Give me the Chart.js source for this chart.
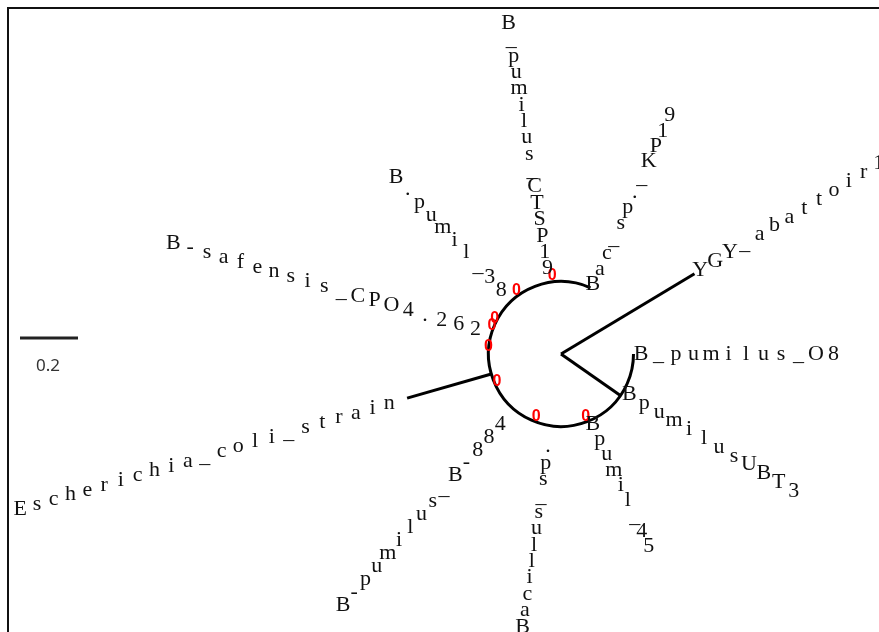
<!DOCTYPE html>
<html>
<head>
<meta charset="utf-8">
<title>Radial tree</title>
<style>
  html, body { margin: 0; padding: 0; background: #fff; }
  #wrap { position: relative; width: 879px; height: 632px; }
</style>
<script src="https://cdn.jsdelivr.net/npm/chart.js@4.4.1/dist/chart.umd.min.js"></script>
</head>
<body>
<div id="wrap"><canvas id="tree"></canvas></div>
<script>
// ---- tree data -------------------------------------------------------------
// Tip labels, listed counter-clockwise starting from the right-hand side.
const tipLabels = [
  'B_pumilus_O8',
  'YGY_abattoir1',
  'Bac_sp._KP19',
  'B_pumilus_CTSP19',
  'B.pumil_38',
  'B-safensis_CPO4.262',
  'Escherichia_coli_strain',
  'B-pumilus_B-884',
  'Bacillus_sp.',
  'Bpumil_45',
  'BpumilusUBT3'
];
// Angular position of each tip (degrees, counter-clockwise from the right).
const tipAngles = [0, 31, 65.5, 99, 133, 164, 196, 229, 262, 294.5, 329.5];
// Distance of each tip from the root (substitutions per site).
const tipDepths = [0.25, 0.537, 0.25, 0.25, 0.25, 0.25, 0.552, 0.25, 0.25, 0.25, 0.25];

// Internal node that joins every tip except YGY_abattoir1.
const cladeDepth = 0.25;
const cladeAngle = 325;
const cladeArcStart = 66;   // degrees
const cladeArcEnd = 360;    // degrees

// Zero-length internal edges and their labels.
const zeroEdgeAngles = [97, 128, 156, 162, 178.5, 208, 250, 290];
const zeroEdgeLabels = ['0', '0', '0', '0', '0', '0', '0', '0'];

// Scale bar.
const scaleBarValue = 0.2;
const scaleBarLabel = '0.2';

// ---- helpers ---------------------------------------------------------------
const rad = d => d * Math.PI / 180;
const polar = (angle, r) => ({ x: r * Math.cos(rad(angle)), y: r * Math.sin(rad(angle)) });

const ROOT = { x: 0, y: 0 };
const branchStyle = { borderColor: '#000', borderWidth: 3, pointRadius: 0, showLine: true, fill: false, borderCapStyle: 'butt' };

// Root -> YGY, root -> clade node, and the extra length of the E. coli tip.
const ecoliIdx = tipLabels.indexOf('Escherichia_coli_strain');
const yIdx = tipLabels.indexOf('YGY_abattoir1');
const datasets = [
  Object.assign({ data: [ROOT, polar(tipAngles[yIdx], tipDepths[yIdx])] }, branchStyle),
  Object.assign({ data: [ROOT, polar(cladeAngle, cladeDepth)] }, branchStyle),
  Object.assign({ data: [polar(tipAngles[ecoliIdx], cladeDepth), polar(tipAngles[ecoliIdx], tipDepths[ecoliIdx])] }, branchStyle)
];

// Draws the clade arc, edge labels, tip labels, scale bar and frame.
const treeDecor = {
  id: 'treeDecor',
  beforeDatasetsDraw(chart) {
    const { ctx, scales: { x, y } } = chart;
    const cx = x.getPixelForValue(0), cy = y.getPixelForValue(0);
    const r = x.getPixelForValue(cladeDepth) - cx;
    ctx.save();
    ctx.strokeStyle = '#000';
    ctx.lineWidth = 3;
    ctx.beginPath();
    ctx.arc(cx, cy, r, -rad(cladeArcStart), -rad(cladeArcEnd), true);
    ctx.stroke();
    ctx.restore();
  },
  afterDatasetsDraw(chart) {
    const { ctx, scales: { x, y } } = chart;
    const cx = x.getPixelForValue(0);
    const pxPerUnit = x.getPixelForValue(1) - cx;
    ctx.save();

    // red labels of zero-length edges
    ctx.fillStyle = '#ff0000';
    ctx.font = 'bold 16px "Liberation Sans", Arial, sans-serif';
    ctx.textAlign = 'center';
    ctx.textBaseline = 'middle';
    zeroEdgeAngles.forEach((a, i) => {
      const p = polar(a, cladeDepth);
      ctx.fillText(zeroEdgeLabels[i], x.getPixelForValue(p.x), y.getPixelForValue(p.y) - 6);
    });

    // tip labels, one upright glyph at a time along each tip's ray
    ctx.fillStyle = '#111';
    ctx.font = '22px "Liberation Serif", "Times New Roman", serif';
    tipLabels.forEach((label, i) => {
      const a = tipAngles[i];
      const tip = polar(a, tipDepths[i]);
      const tx = x.getPixelForValue(tip.x), ty = y.getPixelForValue(tip.y);
      const c = Math.cos(rad(a)), s = Math.sin(rad(a));
      const dx = c, dy = -s;
      const leftSide = a > 90 && a < 270;
      const chars = leftSide ? Array.from(label).reverse() : Array.from(label);
      // glyph pitch is a little tighter on near-vertical rays
      const step = 16.4 + 1.1 * Math.abs(c);
      const offset = leftSide ? 17.5 - 3.5 * s : 2 + 5.5 * Math.abs(c);
      chars.forEach((ch, k) => {
        const d = offset + k * step;
        ctx.fillText(ch, tx + dx * d, ty + dy * d);
      });
    });

    // scale bar
    const barX = 20, barY = 338;
    const barLen = scaleBarValue * pxPerUnit;
    ctx.strokeStyle = '#222';
    ctx.lineWidth = 3;
    ctx.beginPath();
    ctx.moveTo(barX, barY);
    ctx.lineTo(barX + barLen, barY);
    ctx.stroke();
    ctx.fillStyle = '#333';
    ctx.font = '17px "Noto Sans", "Liberation Sans", sans-serif';
    ctx.textAlign = 'center';
    ctx.textBaseline = 'middle';
    ctx.fillText(scaleBarLabel, barX + barLen / 2 - 1, 366);

    // plot frame (top and left edges)
    ctx.strokeStyle = '#111';
    ctx.lineWidth = 2;
    ctx.beginPath();
    ctx.moveTo(8, chart.height);
    ctx.lineTo(8, 8);
    ctx.lineTo(chart.width, 8);
    ctx.stroke();
    ctx.restore();
  }
};

// Root sits at pixel (561, 354); one unit of branch length spans 290 px.
const ROOT_PX = { x: 561, y: 354 };
const UNIT_PX = 290;
const W = 879, H = 632;

new Chart(document.getElementById('tree'), {
  type: 'scatter',
  data: { datasets },
  options: {
    responsive: true,
    maintainAspectRatio: false,
    animation: false,
    layout: { padding: 0 },
    plugins: { legend: { display: false }, tooltip: { enabled: false } },
    scales: {
      x: { type: 'linear', display: false, min: -ROOT_PX.x / UNIT_PX, max: (W - ROOT_PX.x) / UNIT_PX },
      y: { type: 'linear', display: false, min: -(H - ROOT_PX.y) / UNIT_PX, max: ROOT_PX.y / UNIT_PX }
    }
  },
  plugins: [treeDecor]
});
</script>
</body>
</html>
